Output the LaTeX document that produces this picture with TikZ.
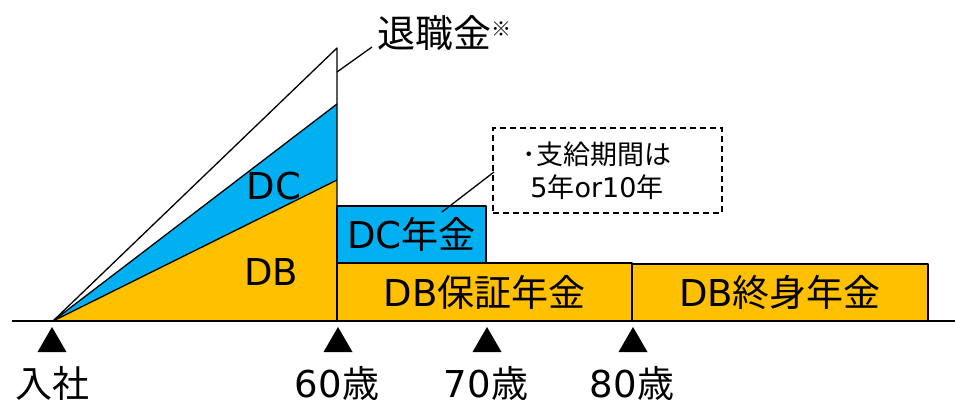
\documentclass[tikz,border=0pt]{standalone}
\usepackage{fontspec}
\setmainfont{DejaVu Sans}
\newfontfamily\jp{Noto Sans CJK JP}
\definecolor{gold}{HTML}{FFC000}
\definecolor{skyblue}{HTML}{00B0F0}
\tikzset{
  outl/.style={draw=black, line width=1.3pt, line join=round},
  bigtxt/.style={font=\fontsize{37}{40}\selectfont, inner sep=0pt},
  axtxt/.style={bigtxt, anchor=base, text depth=0pt, text height=28pt},
  boxgold/.style={outl, fill=gold, rectangle, inner sep=0pt, font=\fontsize{37}{40}\selectfont},
  boxblue/.style={outl, fill=skyblue, rectangle, inner sep=0pt, font=\fontsize{37}{40}\selectfont},
  marker/.style={fill=black},
}
\begin{document}
\begin{tikzpicture}[x=1pt, y=-1pt]
\useasboundingbox (0,0) rectangle (955,406);
% key coordinates
\coordinate (o) at (53,321);
\coordinate (top) at (337,48);
\coordinate (dctop) at (337,104);
\coordinate (dbtop) at (337,180);
\coordinate (base60) at (337,321);
% triangles
\fill[gold] (o) -- (dbtop) -- (base60) -- cycle;
\fill[skyblue] (o) -- (dctop) -- (dbtop) -- cycle;
\draw[outl] (o) -- (dbtop);
\draw[outl] (o) -- (dctop);
\draw[outl] (o) -- (top) -- (base60);
% labels in triangle
\node[bigtxt] (dc) at (274,186) {DC};
\node[bigtxt] (db) at (271,272) {DB};
% boxes
\node[boxblue, minimum width=149pt, minimum height=57pt] (dcnen) at (411.5,234.5) {DC{\jp 年金}};
\node[boxgold, minimum width=295pt, minimum height=58pt] (dbhosho) at (484.5,292) {DB{\jp 保証年金}};
\node[boxgold, minimum width=296pt, minimum height=57pt] (dbshushin) at (780,292.5) {DB{\jp 終身年金}};
% baseline
\coordinate (bl) at (12,321);
\coordinate (br) at (955,321);
\draw[line width=2.6pt] (bl) -- (br);
% retirement label
\node[font=\fontsize{38}{40}\selectfont\jp, inner sep=0pt, anchor=west] (taishoku) at (377,33) {退職金\raisebox{11pt}{\fontsize{20}{20}\selectfont ※}};
\coordinate (c1) at (337,72);
\coordinate (c2) at (372,47);
\draw[line width=1.3pt] (c1) -- (c2);
% dashed callout
\node[draw=black, dash pattern=on 6pt off 4pt, line width=1.3pt, minimum width=229pt, minimum height=85pt, inner sep=0pt] (note) at (607.5,170.5) {};
\node[font=\fontsize{27}{33}\selectfont, align=center, inner sep=0pt] (notetxt) at (597,171) {{\jp ･支給期間は}\\5{\jp 年}or10{\jp 年}};
\coordinate (n1) at (494,172);
\coordinate (n2) at (442,212);
\draw[line width=1.3pt] (n1) -- (n2);
% markers
\foreach \xx in {52,338,487,633} {
  \fill[marker] (\xx-14.5,352) -- (\xx,327) -- (\xx+14.5,352) -- cycle;
}
% axis labels
\node[axtxt] (nyusha) at (52,397) {\jp 入社};
\node[axtxt] (a60) at (337,397) {60{\jp 歳}};
\node[axtxt] (a70) at (486,397) {70{\jp 歳}};
\node[axtxt] (a80) at (632,397) {80{\jp 歳}};
\end{tikzpicture}
\end{document}
